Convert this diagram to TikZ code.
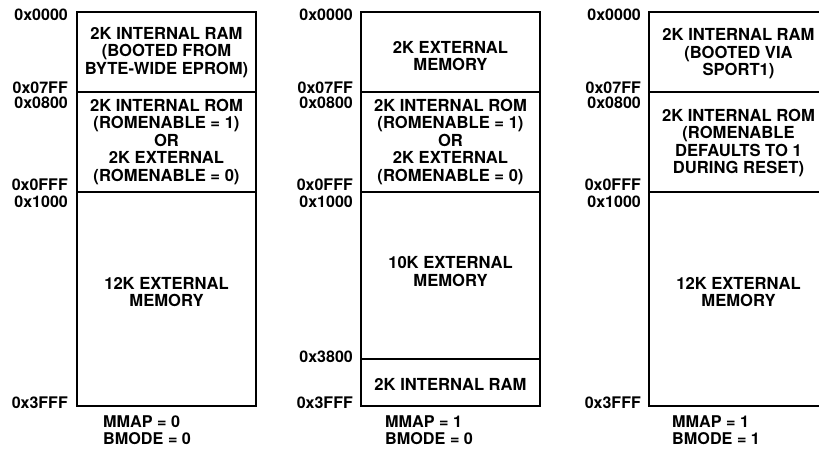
\documentclass[tikz,border=0pt]{standalone}
\usepackage{fontspec}
\setmainfont{TeX Gyre Heros}
\begin{document}
\begin{tikzpicture}[x=1pt,y=-1pt,
  txt/.style={font=\bfseries\fontsize{16.6}{17.5}\selectfont, align=center, inner sep=0pt},
  addr/.style={font=\bfseries\fontsize{16}{17.3}\selectfont, inner sep=0pt, anchor=east},
  cond/.style={font=\bfseries\fontsize{16.2}{16.5}\selectfont, align=left, inner sep=0pt, anchor=north west},
  mapline/.style={line width=1.7pt}]
\useasboundingbox (0,0) rectangle (819,449);
\begin{scope}
\clip (0,0) rectangle (819,449);
% box 1
\draw[mapline] (77,12) rectangle (256,406);
\draw[mapline] (77,92) -- (256,92);
\draw[mapline] (77,192) -- (256,192);
% box 2
\draw[mapline] (361,12) rectangle (540,406);
\draw[mapline] (361,92) -- (540,92);
\draw[mapline] (361,192) -- (540,192);
\draw[mapline] (361,359) -- (540,359);
% box 3
\draw[mapline] (649,12) rectangle (828,406);
\draw[mapline] (649,92) -- (828,92);
\draw[mapline] (649,192) -- (828,192);
\end{scope}

% box 1 texts
\node[txt] (a1) at (166.5,52.5) {2K INTERNAL RAM\\(BOOTED FROM\\BYTE-WIDE EPROM)};
\node[txt] (a2) at (166.5,142) {2K INTERNAL ROM\\(ROMENABLE = 1)\\OR\\2K EXTERNAL\\(ROMENABLE = 0)};
\node[txt] (a3) at (166.5,292) {12K EXTERNAL\\MEMORY};
% box 2 texts
\node[txt] (b1) at (450.5,56) {2K EXTERNAL\\MEMORY};
\node[txt] (b2) at (450.5,142) {2K INTERNAL ROM\\(ROMENABLE = 1)\\OR\\2K EXTERNAL\\(ROMENABLE = 0)};
\node[txt] (b3) at (450.5,271.5) {10K EXTERNAL\\MEMORY};
\node[txt] (b4) at (450.5,384) {2K INTERNAL RAM};
% box 3 texts
\node[txt] (c1) at (738.5,54) {2K INTERNAL RAM\\(BOOTED VIA\\SPORT1)};
\node[txt] (c2) at (738.5,143) {2K INTERNAL ROM\\(ROMENABLE\\DEFAULTS TO 1\\DURING RESET)};
\node[txt] (c3) at (738.5,292) {12K EXTERNAL\\MEMORY};

% addresses box 1
\node[addr] (la0) at (68,15) {0x0000};
\node[addr] (la1) at (68,88) {0x07FF};
\node[addr] (la2) at (68,102.5) {0x0800};
\node[addr] (la3) at (68,185) {0x0FFF};
\node[addr] (la4) at (68,201.5) {0x1000};
\node[addr] (la5) at (68,403) {0x3FFF};
% addresses box 2
\node[addr] (lb0) at (353,15) {0x0000};
\node[addr] (lb1) at (353,88) {0x07FF};
\node[addr] (lb2) at (353,102.5) {0x0800};
\node[addr] (lb3) at (353,185) {0x0FFF};
\node[addr] (lb4) at (353,201.5) {0x1000};
\node[addr] (lb5) at (353,357) {0x3800};
\node[addr] (lb6) at (353,403) {0x3FFF};
% addresses box 3
\node[addr] (lc0) at (641,15) {0x0000};
\node[addr] (lc1) at (641,88) {0x07FF};
\node[addr] (lc2) at (641,102.5) {0x0800};
\node[addr] (lc3) at (641,185) {0x0FFF};
\node[addr] (lc4) at (641,201.5) {0x1000};
\node[addr] (lc5) at (641,403) {0x3FFF};

% conditions
\node[cond] (m1) at (103,415.5) {MMAP = 0\\BMODE = 0};
\node[cond] (m2) at (385,415.5) {MMAP = 1\\BMODE = 0};
\node[cond] (m3) at (672,415.5) {MMAP = 1\\BMODE = 1};
\end{tikzpicture}
\end{document}
